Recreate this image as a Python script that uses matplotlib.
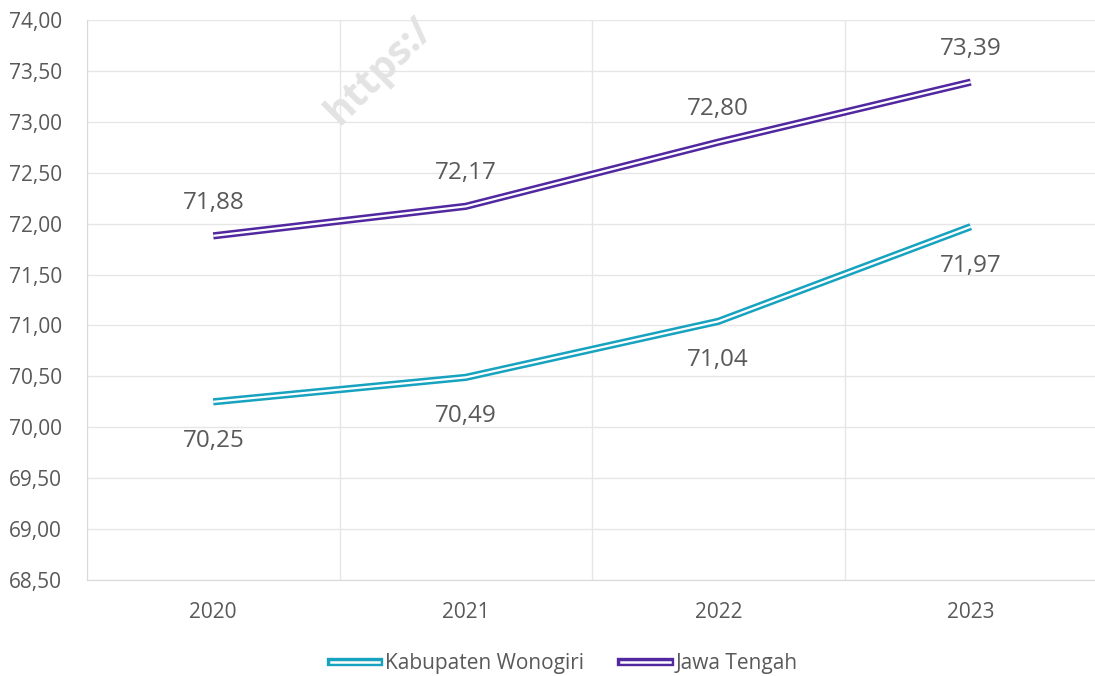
import numpy as np
import matplotlib.pyplot as plt
import matplotlib as mpl
from matplotlib.lines import Line2D
from matplotlib.legend_handler import HandlerTuple

#==========================================================
# DATA
#==========================================================
years = ["2020", "2021", "2022", "2023"]
wonogiri = [70.25, 70.49, 71.04, 71.97]
jateng = [71.88, 72.17, 72.80, 73.39]
yticks = np.arange(68.5, 74.01, 0.5)

teal = "#17A3C0"
purple = "#5128A0"
gray = "#595959"

mpl.rcParams['font.family'] = ['Open Sans', 'DejaVu Sans']

fig = plt.figure(figsize=(10.95, 6.76), dpi=100)
ax = fig.add_axes([87/1095, 1-580/676, 1010/1095, 560/676])

x = np.arange(len(years))

# double line: thick colored line with thin white line on top
for vals, col in [(wonogiri, teal), (jateng, purple)]:
  ax.plot(x, vals, color=col, lw=5.2, solid_capstyle='butt', zorder=3)
  ax.plot(x, vals, color='white', lw=1.6, solid_capstyle='butt', zorder=4)

# data labels
for i, v in enumerate(jateng):
  ax.annotate(("%.2f" % v).replace(".", ","), (i, v), xytext=(0, 24), textcoords='offset points',
              ha='center', va='center', fontsize=17.5, color=gray)
for i, v in enumerate(wonogiri):
  ax.annotate(("%.2f" % v).replace(".", ","), (i, v), xytext=(0, -28), textcoords='offset points',
              ha='center', va='center', fontsize=17.5, color=gray)

ax.set_xlim(-0.5, 3.5)
ax.set_ylim(68.5, 74.0)
ax.set_yticks(yticks)
ax.set_yticklabels([("%.2f" % t).replace(".", ",") for t in yticks])
ax.set_xticks(x)
ax.set_xticklabels(years)
ax.set_xticks(np.arange(-0.5, 4, 1), minor=True)
ax.tick_params(axis='y', length=0, labelsize=15, colors=gray, pad=18)
ax.tick_params(axis='x', which='both', length=0, labelsize=15, colors=gray, pad=16)

ax.grid(axis='y', color='#E6E6E6', lw=1)
ax.grid(axis='x', which='minor', color='#E6E6E6', lw=1)
ax.set_axisbelow(True)
for s in ['top', 'right']:
  ax.spines[s].set_visible(False)
ax.spines['left'].set_color('#D9D9D9')
ax.spines['bottom'].set_color('#D9D9D9')

# legend with double-line handles
h1 = (Line2D([], [], color=teal, lw=6), Line2D([], [], color='white', lw=1.8))
h2 = (Line2D([], [], color=purple, lw=6), Line2D([], [], color='white', lw=1.8))
fig.legend([h1, h2], ["Kabupaten Wonogiri", "Jawa Tengah"],
           handler_map={tuple: HandlerTuple(ndivide=1, pad=0)},
           loc='center', bbox_to_anchor=(564/1095, 1-664/676), ncol=2, frameon=False,
           fontsize=15, labelcolor=gray, handlelength=2.35, handletextpad=0.25, columnspacing=1.8)

# watermark (cut by the top edge in the original)
fig.text(318/1095, 1-132/676, "https:/", rotation=45, fontsize=29,
         fontweight='bold', color='#E3E3E3', ha='left', va='bottom', zorder=0)

fig.savefig("out.png", dpi=100)
